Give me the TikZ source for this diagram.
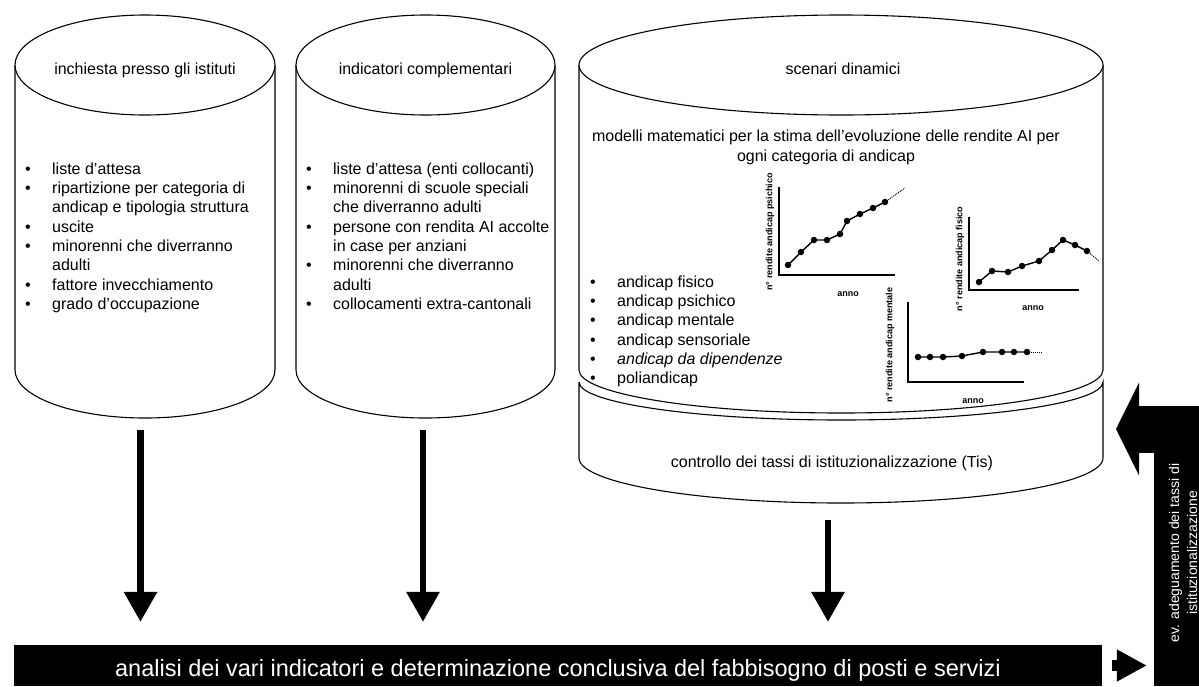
\documentclass[tikz,border=0pt]{standalone}
\usepackage{fontspec}
\setmainfont{Liberation Sans}
\usetikzlibrary{arrows.meta}

\newcommand{\bulitem}{\makebox[27pt][l]{\textbullet}}
\newcommand{\bulcont}{\hspace*{27pt}}

\tikzstyle{drum} = [draw, fill=white, line width=1.1pt]
\tikzstyle{heading} = [anchor=base, inner sep=0pt, font=\fontsize{16}{19.3}\selectfont]
\tikzstyle{bullets} = [anchor=north west, inner sep=0pt, align=left, font=\fontsize{16}{19.3}\selectfont]
\tikzstyle{flow} = [draw, line width=6.5pt, -{Triangle[width=32pt,length=30pt]}]
\tikzstyle{chartaxis} = [draw, line width=1.4pt]
\tikzstyle{chartdot} = [circle, fill=black, inner sep=0pt, minimum size=6.5pt]
\tikzstyle{trend} = [draw, line width=1pt, dash pattern=on 1pt off 1pt]
\tikzstyle{ylab} = [rotate=90, inner sep=0pt, font=\fontsize{9}{10}\selectfont\bfseries]
\tikzstyle{xlab} = [inner sep=0pt, font=\fontsize{9}{10}\selectfont\bfseries]

\begin{document}
\begin{tikzpicture}[x=1pt, y=-1pt]
\useasboundingbox (0,0) rectangle (1199,686);

% inchiesta presso gli istituti
\draw[drum] (15,65) -- (15,370) arc[start angle=180, end angle=360, x radius=130pt, y radius=48pt] -- (275,65);
\draw[drum] (145,65) ellipse [x radius=130pt, y radius=50pt];
\coordinate (inch) at (140.5,418);
\node[heading] (inchtitle) at (145,74) {inchiesta presso gli istituti};
\node[bullets] (inchlist) at (25,162.5) {\bulitem liste d'attesa\\
\bulitem ripartizione per categoria di\\
\bulcont andicap e tipologia struttura\\
\bulitem uscite\\
\bulitem minorenni che diverranno\\
\bulcont adulti\\
\bulitem fattore invecchiamento\\
\bulitem grado d'occupazione};

% indicatori complementari
\draw[drum] (296,65) -- (296,370) arc[start angle=180, end angle=360, x radius=129.5pt, y radius=48pt] -- (555,65);
\draw[drum] (425.5,65) ellipse [x radius=129.5pt, y radius=50pt];
\coordinate (indic) at (423,418);
\node[heading] (indictitle) at (425.5,74) {indicatori complementari};
\node[bullets] (indiclist) at (306,162.5) {\bulitem liste d'attesa (enti collocanti)\\
\bulitem minorenni di scuole speciali\\
\bulcont che diverranno adulti\\
\bulitem persone con rendita AI accolte\\
\bulcont in case per anziani\\
\bulitem minorenni che diverranno\\
\bulcont adulti\\
\bulitem collocamenti extra-cantonali};

% scenari dinamici + controllo Tis
\draw[drum] (579,65) -- (579,370) arc[start angle=180, end angle=360, x radius=262pt, y radius=43pt] -- (1103,65);
\draw[drum] (841,65) ellipse [x radius=262pt, y radius=50pt];
\draw[drum] (579,382) -- (579,458) arc[start angle=180, end angle=360, x radius=262pt, y radius=45pt]
  -- (1103,382) arc[start angle=360, end angle=180, x radius=262pt, y radius=38pt];
\coordinate (ctrl) at (828,503);
\coordinate (scenright) at (1103,429);
\node[heading] (scentitle) at (843,74) {scenari dinamici};
\node[anchor=north, inner sep=0pt, align=center, font=\fontsize{16}{19.3}\selectfont] (modelli) at (826,130)
  {modelli matematici per la stima dell'evoluzione delle rendite AI per\\ogni categoria di andicap};
\node[bullets] (scenlist) at (590,275.5) {\bulitem andicap fisico\\
\bulitem andicap psichico\\
\bulitem andicap mentale\\
\bulitem andicap sensoriale\\
\bulitem \textit{andicap da dipendenze}\\
\bulitem poliandicap};
\node[heading] (ctrltitle) at (832,467) {controllo dei tassi di istituzionalizzazione (Tis)};

% grafico psichico
\draw[chartaxis] (779,187) -- (779,275) -- (895,275);
\foreach \p [count=\i] in {(788,265),(801,252),(814,240),(827,240),(840,234),(847,221),(860,214),(873,208),(885,202)}
  \node[chartdot] (psi\i) at \p {};
\draw[line width=1.4pt] (psi1.center) \foreach \i in {2,...,9} {-- (psi\i.center)};
\draw[trend] (psi9.center) -- (905,188);
\node[ylab] (psiy) at (770,232) {n° rendite andicap psichico};
\node[xlab] (psix) at (848,294) {anno};

% grafico fisico
\draw[chartaxis] (969,217) -- (969,290) -- (1079,290);
\foreach \p [count=\i] in {(979,282),(992,271),(1008,272),(1022,266),(1039,261),(1052,250),(1063,240),(1075,245),(1087,251)}
  \node[chartdot] (fis\i) at \p {};
\draw[line width=1.4pt] (fis1.center) \foreach \i in {2,...,9} {-- (fis\i.center)};
\draw[trend] (fis9.center) -- (1099,261);
\node[ylab] (fisy) at (960,259) {n° rendite andicap fisico};
\node[xlab] (fisx) at (1033,308) {anno};

% grafico mentale
\draw[chartaxis] (908,302) -- (908,382) -- (1024,382);
\foreach \p [count=\i] in {(918,357),(930,357),(943,357),(962,356),(983,352),(1002,352),(1014,352),(1027,352)}
  \node[chartdot] (men\i) at \p {};
\draw[line width=1.4pt] (men1.center) \foreach \i in {2,...,8} {-- (men\i.center)};
\draw[trend] (men8.center) -- (1043,352);
\node[ylab] (meny) at (890,345) {n° rendite andicap mentale};
\node[xlab] (menx) at (973,401) {anno};

% barra finale e adeguamento
\node[fill=black, text=white, minimum width=1088pt, minimum height=41pt, inner sep=0pt,
  text height=26pt, text depth=5pt, font=\fontsize{23.5}{28}\selectfont] (analisi) at (558,665.5)
  {analisi dei vari indicatori e determinazione conclusiva del fabbisogno di posti e servizi};
\node[fill=black, minimum width=45pt, minimum height=234pt, inner sep=0pt] (adeg) at (1176.5,569) {};
\node[rotate=90, text=white, align=center, inner sep=0pt, font=\fontsize{14}{18}\selectfont] (adegtext) at (1183,553)
  {ev. adeguamento dei tassi di\\istituzionalizzazione};
\coordinate (fb) at (1199,429);

% frecce
\draw[flow, shorten <=12pt, shorten >=23pt] (inch) -- (inch |- analisi.north);
\draw[flow, shorten <=12pt, shorten >=23pt] (indic) -- (indic |- analisi.north);
\draw[flow, shorten <=17pt, shorten >=23pt] (ctrl) -- (ctrl |- analisi.north);
\draw[line width=47pt, -{Triangle[width=92pt,length=23pt]}, shorten >=13pt] (fb) -- (scenright);
\draw[line width=11pt, -{Triangle[width=30pt,length=30pt]}, shorten <=10pt, shorten >=7pt] (analisi.east) -- (analisi.east -| adeg.west);
\end{tikzpicture}
\end{document}
